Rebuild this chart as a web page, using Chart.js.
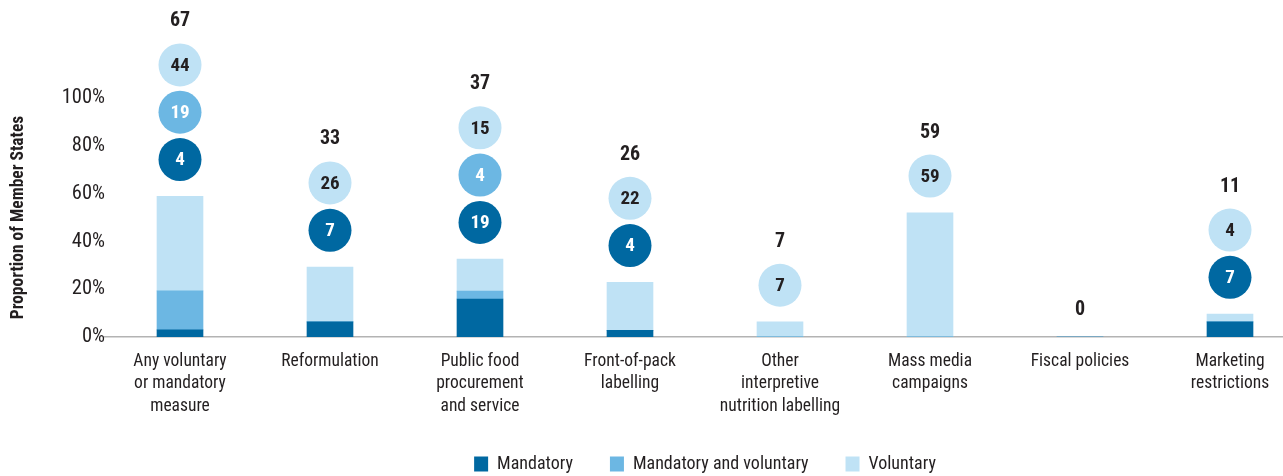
<!DOCTYPE html>
<html>
<head>
<meta charset="utf-8">
<script src="https://cdn.jsdelivr.net/npm/chart.js@4/dist/chart.umd.min.js"></script>
<style>
  html, body { margin: 0; padding: 0; overflow: hidden; background: #fff; }
  #wrap { width: 1308px; height: 476px; margin-left: -3px; position: relative; }
</style>
</head>
<body>
<div id="wrap"><canvas id="chart"></canvas></div>
<script>
const categories = [
  ["Any voluntary", "or mandatory", "measure"],
  "Reformulation",
  ["Public food", "procurement", "and service"],
  ["Front-of-pack", "labelling"],
  ["Other", "interpretive", "nutrition labelling"],
  ["Mass media", "campaigns"],
  "Fiscal policies",
  ["Marketing", "restrictions"]
];

// bar heights as drawn (% on the axis)
const mandatoryBar = [3.0, 6.3, 15.9, 2.8, 0, 0, 0, 6.3];
const bothBar      = [16.3, 0, 3.3, 0, 0, 0, 0, 0];
const voluntaryBar = [39.6, 23.0, 13.4, 20.1, 6.3, 52.0, 0, 3.3];

// numbers shown in the bubbles and the totals above them
const mandatoryCount = [4, 7, 19, 4, 0, 0, 0, 7];
const bothCount      = [19, 0, 4, 0, 0, 0, 0, 0];
const voluntaryCount = [44, 26, 15, 22, 7, 59, 0, 4];
const totals         = [67, 33, 37, 26, 7, 59, 0, 11];

const yTicks = [0, 20, 40, 60, 80, 100];

const FONT = "'Roboto Condensed', 'Open Sans', sans-serif";
const TEXT = "#231f20";
const DARK = "#0068a1";
const MID = "#6cb7e3";
const LIGHT = "#bfe2f5";

const bubbles = {
  id: "bubbles",
  afterDatasetsDraw(chart) {
    const ctx = chart.ctx;
    const x = chart.scales.x, y = chart.scales.y;
    const series = [
      { counts: mandatoryCount, fill: DARK, text: "#fff" },
      { counts: bothCount, fill: MID, text: "#fff" },
      { counts: voluntaryCount, fill: LIGHT, text: TEXT }
    ];
    ctx.save();
    ctx.textAlign = "center";
    ctx.textBaseline = "middle";
    categories.forEach((c, i) => {
      const cx = x.getPixelForValue(i);
      const top = y.getPixelForValue(mandatoryBar[i] + bothBar[i] + voluntaryBar[i]);
      let cy = top - 36.7;
      let n = 0;
      series.forEach(s => {
        if (!s.counts[i]) return;
        ctx.beginPath();
        ctx.arc(cx, cy, 21.5, 0, Math.PI * 2);
        ctx.fillStyle = s.fill;
        ctx.fill();
        ctx.fillStyle = s.text;
        ctx.font = "bold 19px " + FONT;
        ctx.fillText(String(s.counts[i]), cx, cy + 1);
        cy -= 47.3;
        n++;
      });
      const ty = n ? cy + 47.3 - 45 : top - 28.3;
      ctx.fillStyle = TEXT;
      ctx.font = "bold 20px " + FONT;
      ctx.fillText(String(totals[i]), cx, ty + 1.5);
    });
    ctx.restore();
  }
};

new Chart(document.getElementById("chart"), {
  type: "bar",
  data: {
    labels: categories,
    datasets: [
      { label: "Mandatory", data: mandatoryBar, backgroundColor: DARK },
      { label: "Mandatory and voluntary", data: bothBar, backgroundColor: MID },
      { label: "Voluntary", data: voluntaryBar, backgroundColor: LIGHT }
    ]
  },
  options: {
    responsive: true,
    maintainAspectRatio: false,
    animation: false,
    layout: { padding: { top: 98, left: 0, right: 0, bottom: 0 } },
    datasets: { bar: { barThickness: 46, borderWidth: 0 } },
    scales: {
      x: {
        stacked: true,
        grid: { display: false, drawTicks: false },
        border: { display: true, color: "#b3b3b3", width: 1.5 },
        ticks: {
          autoSkip: false, maxRotation: 0, minRotation: 0, padding: 14,
          color: TEXT,
          font: { family: FONT, size: 17.5, lineHeight: 1.26 }
        },
        afterFit(scale) { scale.height = 81; }
      },
      y: {
        stacked: true,
        min: 0, max: 100,
        grid: { display: false, drawTicks: false },
        border: { display: false },
        afterBuildTicks(scale) { scale.ticks = yTicks.map(v => ({ value: v })); },
        ticks: {
          padding: 0,
          color: TEXT,
          font: { family: FONT, size: 20.5 },
          callback: v => v + "%"
        },
        title: {
          display: true,
          text: "Proportion of Member States",
          color: TEXT,
          padding: { top: 11.5, bottom: 0 },
          font: { family: FONT, size: 17.5, weight: "bold" }
        },
        afterFit(scale) { scale.width = 108; }
      }
    },
    plugins: {
      legend: {
        position: "bottom",
        fullSize: false,
        maxHeight: 58,
        labels: {
          boxWidth: 14, boxHeight: 15, padding: 37,
          color: TEXT,
          font: { family: FONT, size: 18 }
        }
      },
      tooltip: { enabled: false }
    }
  },
  plugins: [bubbles]
});
</script>
</body>
</html>
